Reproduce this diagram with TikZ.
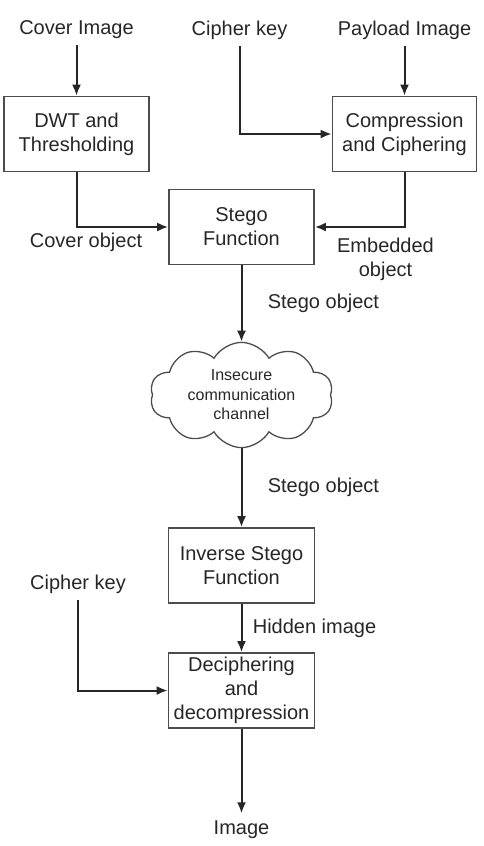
\documentclass[tikz,border=0pt]{standalone}
\usepackage{fontspec}
\setmainfont{Liberation Sans}
\usetikzlibrary{arrows.meta,shapes.symbols,calc}
\tikzset{
    block/.style = {draw=black!70, line width=1.7pt, rectangle,
        minimum height=75pt,
        minimum width=145pt, inner sep=1pt, align=center},
    txt/.style = {inner sep=6pt, align=center},
    chan/.style = {draw=black!70, line width=1.3pt, cloud, cloud puffs=10,
        cloud puff arc=120, cloud ignores aspect,
        minimum width=183pt, minimum height=104pt, align=center,
        font=\fontsize{16}{19.5}\selectfont},
    arrow/.style={draw=black!85, line width=2pt, -{Latex[length=11pt,width=9pt]}},
    wire/.style={draw=black!85, line width=2pt}
}

\begin{document}
\begin{tikzpicture}[auto, node distance=107pt, text=black!85,
    font=\fontsize{20}{24}\selectfont]
    \useasboundingbox (0pt,0pt) rectangle (484pt,-846pt);
    % top row
    \node [block] (dwt) at (76.5pt,-134pt) {DWT and\\Thresholding};
    \node [block, right of=dwt, node distance=328pt, minimum width=144pt] (comp) {Compression\\and Ciphering};
    \node [txt, above of=dwt, yshift=-3pt] (cover) {Cover Image};
    \node [txt, above of=comp, yshift=-3pt] (payload) {Payload Image};
    \node [txt, right of=cover, node distance=163pt] (key1) {Cipher key};
    % main column
    \node [block] (stego) at (241.5pt,-227pt) {Stego\\Function};
    \node [chan, below of=stego, node distance=168pt] (channel) {Insecure\\communication\\channel};
    \node [block, below of=channel, node distance=170.5pt, minimum width=146pt] (inverse) {Inverse Stego\\Function};
    \node [block, below of=inverse, node distance=125pt, minimum width=146pt] (decipher) {Deciphering\\and\\decompression};
    \node [txt, below of=decipher, node distance=139pt, inner sep=7pt] (image) {Image};
    \node [txt] (key2) at (78pt,-584pt) {Cipher key};

    \draw [arrow] (cover) -- (dwt);
    \draw [arrow] (payload) -- (comp);
    \draw [arrow] (key1) |- (comp);
    \draw [arrow] (dwt) |- node[below, pos=0.5, xshift=9.5pt, yshift=-2pt] {Cover object} (stego);
    \draw [arrow] (comp) |- node[below, pos=0.5, xshift=-19pt, yshift=-7pt, align=center] {Embedded\\object} (stego);
    \draw [arrow] (stego) -- node[right=22pt] {Stego object} (channel);
    \draw [arrow] (channel) -- node[right=22pt] {Stego object} (inverse);
    \draw [arrow] (inverse) -- node[right=7pt] {Hidden image} (decipher);
    \draw [arrow] (key2) |- (decipher);
    \draw [arrow] (decipher) -- (image);
\end{tikzpicture}
\end{document}
